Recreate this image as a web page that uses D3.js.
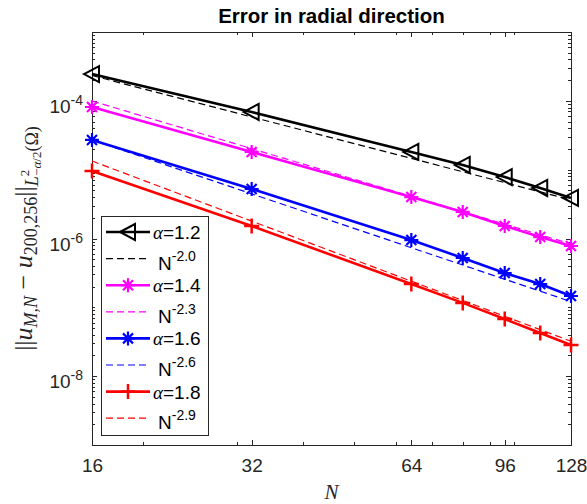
<!DOCTYPE html>
<html>
<head>
<meta charset="utf-8">
<script src="https://cdn.jsdelivr.net/npm/d3@7"></script>
<style>
  body { margin: 0; background: #fff; }
  svg { display: block; }
</style>
</head>
<body>
<svg id="chart" width="587" height="504"></svg>
<script>
// Mesh sizes N and the radial-direction error for each fractional order alpha
const Ns = [16, 32, 64, 80, 96, 112, 128];
const alphaLabels = ["1.2", "1.4", "1.6", "1.8"];
const errAlpha12 = [2.45e-4, 6.89e-5, 1.81e-5, 1.17e-5, 7.8e-6, 5.42e-6, 3.89e-6];
const errAlpha14 = [8.13e-5, 1.81e-5, 4.0e-6, 2.43e-6, 1.52e-6, 1.05e-6, 7.78e-7];
const errAlpha16 = [2.70e-5, 5.24e-6, 9.5e-7, 5.21e-7, 3.15e-7, 2.18e-7, 1.46e-7];
const errAlpha18 = [9.57e-6, 1.52e-6, 2.18e-7, 1.16e-7, 6.76e-8, 4.23e-8, 2.84e-8];

// Reference convergence rates C * N^(-p)
const rateExponents = [2.0, 2.3, 2.6, 2.9];
const rateCoefficients = [0.0597, 0.0585, 0.0365, 0.0415];

// Axis ticks
const xTicks = [16, 32, 64, 96, 128];
const xMinorTicks = [20, 30, 40, 50, 60, 70, 80, 90, 100];
const yTicks = [1e-4, 1e-6, 1e-8];
const yTickExponents = ["-4", "-6", "-8"];

// Styling
const seriesColors = ["#000000", "#ff00ff", "#0000ff", "#ff0000"];
const seriesMarkers = ["triangleLeft", "asterisk", "asterisk", "plus"];
const axisColor = "#262626";
const sansFont = "'Liberation Sans', Arial, Helvetica, sans-serif";
const serifFont = "'Liberation Serif', 'DejaVu Serif', 'Times New Roman', serif";

const errSeries = [errAlpha12, errAlpha14, errAlpha16, errAlpha18];

const svg = d3.select("#chart");
const plot = { left: 92, top: 32, right: 571, bottom: 445 };

const x = d3.scaleLog().base(2).domain([16, 128]).range([plot.left, plot.right]);
const y = d3.scaleLog().domain([1e-9, 1e-3]).range([plot.bottom, plot.top]);

// Minor y ticks: k * 10^e for every decade, skipping the labelled ones
const yMinorTicks = [];
for (let e = -9; e <= -4; e++) {
  for (let k = 1; k <= 9; k++) {
    const v = +(k + "e" + e);
    if (k === 1 && (e === -9 || yTicks.some(t => Math.abs(t - v) < v * 1e-6))) continue;
    yMinorTicks.push(v);
  }
}

// Plot background
svg.append("rect")
  .attr("x", plot.left).attr("y", plot.top)
  .attr("width", plot.right - plot.left).attr("height", plot.bottom - plot.top)
  .attr("fill", "#fff");

function cleanAxis(g) {
  g.select(".domain").remove();
  g.attr("font-family", sansFont).attr("font-size", 19);
  g.selectAll(".tick line").attr("stroke", axisColor).attr("shape-rendering", "crispEdges");
  g.selectAll(".tick text").attr("fill", axisColor);
}

// Bottom axis
svg.append("g")
  .attr("transform", `translate(0,${plot.bottom})`)
  .call(d3.axisBottom(x).tickValues(xTicks).tickFormat(d3.format("d")).tickSize(-5).tickPadding(14))
  .call(cleanAxis);
svg.append("g")
  .attr("transform", `translate(0,${plot.bottom})`)
  .call(d3.axisBottom(x).tickValues(xMinorTicks).tickFormat("").tickSize(-3))
  .call(cleanAxis);
// Top axis
svg.append("g")
  .attr("transform", `translate(0,${plot.top})`)
  .call(d3.axisTop(x).tickValues(xTicks).tickFormat("").tickSize(-5))
  .call(cleanAxis);
svg.append("g")
  .attr("transform", `translate(0,${plot.top})`)
  .call(d3.axisTop(x).tickValues(xMinorTicks).tickFormat("").tickSize(-3))
  .call(cleanAxis);
// Left axis
svg.append("g")
  .attr("transform", `translate(${plot.left},0)`)
  .call(d3.axisLeft(y).tickValues(yTicks).tickFormat("").tickSize(-5))
  .call(cleanAxis);
svg.append("g")
  .attr("transform", `translate(${plot.left},0)`)
  .call(d3.axisLeft(y).tickValues(yMinorTicks).tickFormat("").tickSize(-3))
  .call(cleanAxis);
// Right axis
svg.append("g")
  .attr("transform", `translate(${plot.right},0)`)
  .call(d3.axisRight(y).tickValues(yTicks).tickFormat("").tickSize(-5))
  .call(cleanAxis);
svg.append("g")
  .attr("transform", `translate(${plot.right},0)`)
  .call(d3.axisRight(y).tickValues(yMinorTicks).tickFormat("").tickSize(-3))
  .call(cleanAxis);

// Y tick labels as powers of ten
const yLab = svg.append("g").attr("font-family", sansFont).attr("fill", axisColor);
yTicks.forEach((t, i) => {
  const txt = yLab.append("text")
    .attr("x", plot.left - 9)
    .attr("y", y(t) + 12)
    .attr("text-anchor", "end")
    .attr("font-size", 19);
  txt.append("tspan").text("10");
  txt.append("tspan").attr("font-size", 14).attr("dy", -8).text(yTickExponents[i]);
});

// Axes box
svg.append("rect")
  .attr("x", plot.left + 0.5).attr("y", plot.top + 0.5)
  .attr("width", plot.right - plot.left).attr("height", plot.bottom - plot.top)
  .attr("fill", "none").attr("stroke", axisColor).attr("stroke-width", 1)
  .attr("shape-rendering", "crispEdges");

// Marker shapes
function drawMarker(g, type, color) {
  if (type === "triangleLeft") {
    g.append("path")
      .attr("d", "M-8,0 L7,-8 L7,8 Z")
      .attr("fill", "none").attr("stroke", color).attr("stroke-width", 2)
      .attr("stroke-linejoin", "miter");
  } else if (type === "asterisk") {
    g.append("path")
      .attr("d", "M-7,0 H7 M0,-7 V7 M-5,-5 L5,5 M-5,5 L5,-5")
      .attr("fill", "none").attr("stroke", color).attr("stroke-width", 2.2);
  } else if (type === "plus") {
    g.append("path")
      .attr("d", "M-7.5,0 H7.5 M0,-7.5 V7.5")
      .attr("fill", "none").attr("stroke", color).attr("stroke-width", 2.5);
  }
}

const line = d3.line().x(d => x(d[0])).y(d => y(d[1]));
const plotArea = svg.append("g");

errSeries.forEach((vals, i) => {
  const pts = Ns.map((n, j) => [n, vals[j]]);
  plotArea.append("path")
    .attr("d", line(pts))
    .attr("fill", "none").attr("stroke", seriesColors[i])
    .attr("stroke-width", 2.6).attr("stroke-linejoin", "round");
  pts.forEach(p => {
    const m = plotArea.append("g").attr("transform", `translate(${x(p[0])},${y(p[1])})`);
    drawMarker(m, seriesMarkers[i], seriesColors[i]);
  });
  // Reference rate line
  const refPts = Ns.map(n => [n, rateCoefficients[i] * Math.pow(n, -rateExponents[i])]);
  plotArea.append("path")
    .attr("d", line(refPts))
    .attr("fill", "none").attr("stroke", seriesColors[i])
    .attr("stroke-width", 1.2).attr("stroke-dasharray", "7,4");
});

// Title
svg.append("text")
  .attr("x", (plot.left + plot.right) / 2).attr("y", 23)
  .attr("text-anchor", "middle")
  .attr("font-family", sansFont).attr("font-weight", "bold").attr("font-size", 20.5)
  .attr("fill", "#000")
  .text("Error in radial direction");

// X axis label
svg.append("text")
  .attr("x", (plot.left + plot.right) / 2).attr("y", 499)
  .attr("text-anchor", "middle")
  .attr("font-family", serifFont).attr("font-style", "italic").attr("font-size", 21)
  .attr("fill", axisColor)
  .text("N");

// Y axis label: ||u_{M,N} - u_{200,256}||_{L^2_{-alpha/2}(Omega)}
const yl = svg.append("text")
  .attr("transform", `translate(32,${(plot.top + plot.bottom) / 2}) rotate(-90)`)
  .attr("text-anchor", "middle")
  .attr("font-family", serifFont).attr("font-size", 26)
  .attr("fill", axisColor);
yl.append("tspan").text("||");
yl.append("tspan").attr("font-style", "italic").text("u");
yl.append("tspan").attr("font-style", "italic").attr("font-size", 18).attr("dy", 5).text("M,N");
yl.append("tspan").attr("dy", -5).text(" \u2212 ");
yl.append("tspan").attr("font-style", "italic").text("u");
yl.append("tspan").attr("font-size", 18).attr("dy", 5).text("200,256");
yl.append("tspan").attr("dy", -5).text("||");
yl.append("tspan").attr("font-style", "italic").attr("font-size", 18).attr("dy", 6).text("L");
yl.append("tspan").attr("font-size", 13).attr("dy", -9).text("2");
yl.append("tspan").attr("font-size", 13).attr("dx", -6).attr("dy", 12).text("\u2212");
yl.append("tspan").attr("font-size", 13).attr("font-style", "italic").text("\u03b1");
yl.append("tspan").attr("font-size", 13).text("/2");
yl.append("tspan").attr("font-size", 18).attr("dy", -3).text("(\u03a9)");

// Legend
const legend = svg.append("g");
const legBox = { x: 101, y: 216, w: 107, h: 219 };
legend.append("rect")
  .attr("x", legBox.x + 0.5).attr("y", legBox.y + 0.5)
  .attr("width", legBox.w).attr("height", legBox.h)
  .attr("fill", "#fff").attr("stroke", axisColor).attr("stroke-width", 1)
  .attr("shape-rendering", "crispEdges");

const rowStart = 232, rowStep = 26.6;
alphaLabels.forEach((a, i) => {
  const yData = rowStart + (2 * i) * rowStep;
  const yRate = rowStart + (2 * i + 1) * rowStep;
  legend.append("line")
    .attr("x1", 106).attr("x2", 150).attr("y1", yData).attr("y2", yData)
    .attr("stroke", seriesColors[i]).attr("stroke-width", 2.6);
  drawMarker(legend.append("g").attr("transform", `translate(128,${yData})`), seriesMarkers[i], seriesColors[i]);
  const t1 = legend.append("text")
    .attr("x", 153).attr("y", yData + 7)
    .attr("font-family", sansFont).attr("font-size", 19).attr("fill", "#000");
  t1.append("tspan").attr("font-family", serifFont).attr("font-style", "italic").text("\u03b1");
  t1.append("tspan").text("=" + a);

  legend.append("line")
    .attr("x1", 106).attr("x2", 150).attr("y1", yRate).attr("y2", yRate)
    .attr("stroke", seriesColors[i]).attr("stroke-width", 1.2).attr("stroke-dasharray", "7,4");
  const t2 = legend.append("text")
    .attr("x", 158).attr("y", yRate + 11)
    .attr("font-family", sansFont).attr("font-size", 19).attr("fill", "#000");
  t2.append("tspan").text("N");
  t2.append("tspan").attr("font-size", 14).attr("dy", -9).text("-" + rateExponents[i].toFixed(1));
});
</script>
</body>
</html>
